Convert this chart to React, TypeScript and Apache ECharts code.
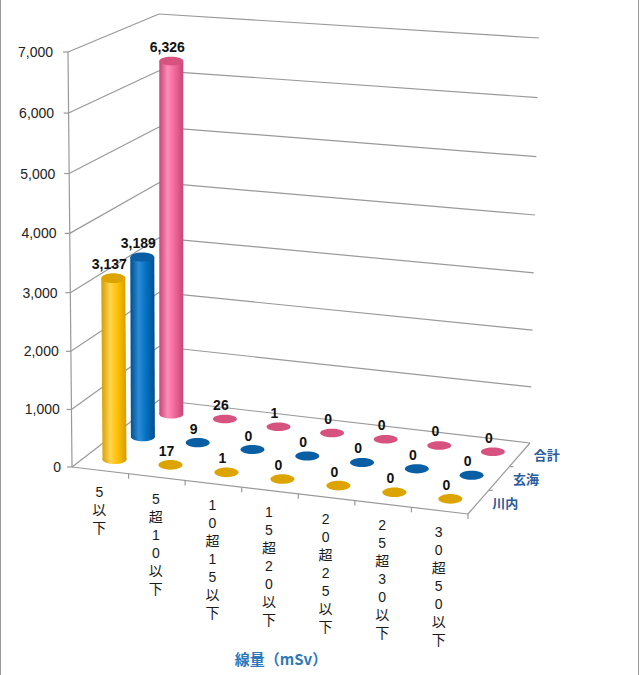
import React, { useEffect, useRef } from "react";
import * as echarts from "echarts";

// ---- data ----
const categories = ["5以下", "5超10以下", "10超15以下", "15超20以下", "20超25以下", "25超30以下", "30超50以下"];
const seriesNames = ["川内", "玄海", "合計"];
const sendai = [3137, 17, 1, 0, 0, 0, 0];
const genkai = [3189, 9, 0, 0, 0, 0, 0];
const total = [6326, 26, 1, 0, 0, 0, 0];
const yTicks = [0, 1000, 2000, 3000, 4000, 5000, 6000, 7000];
const axisTitle = "線量（mSv）";

// ---- projection of the 3D box (screen corners of the plot cube) ----
const CORNERS: Record<string, number[]> = {
  b00: [72, 467],
  b10: [468, 514],
  b01: [159, 400],
  b11: [530, 443],
  t00: [68, 52],
  t10: [473, 79],
  t01: [159, 14],
  t11: [539, 38],
};
const PERSP = -0.034;
function mix(a: number[], b: number[], s: number) {
  return [a[0] + (b[0] - a[0]) * s, a[1] + (b[1] - a[1]) * s];
}
function P(u: number, w: number, t: number) {
  const f = ((1 + PERSP) * t) / (1 + PERSP * t);
  const c = CORNERS;
  const b = mix(mix(c.b00, c.b10, u), mix(c.b01, c.b11, u), w);
  const h = mix(mix(c.t00, c.t10, u), mix(c.t01, c.t11, u), w);
  return mix(b, h, f);
}
const fmt = (v: number) => Number(v).toLocaleString("en-US");
const LATIN = "'Liberation Sans', Arial, 'Noto Sans CJK JP', sans-serif";
const CJK = "'Liberation Sans', 'Noto Sans CJK JP', sans-serif";
const GRID = "#999999";

const palettes = [
  { main: "#FFC000", light: "#FFD44F", dark: "#D49C00", cap: "#DDA400" },
  { main: "#0070C0", light: "#2B8CD8", dark: "#004E8A", cap: "#0A5EA4" },
  { main: "#F2669A", light: "#FF8CB8", dark: "#C64676", cap: "#D6527F" },
];

function bodyGrad(p: any) {
  return new echarts.graphic.LinearGradient(0, 0, 1, 0, [
    { offset: 0, color: p.dark },
    { offset: 0.35, color: p.light },
    { offset: 0.65, color: p.main },
    { offset: 1, color: p.dark },
  ]);
}

function makeBar(values: number[], sIdx: number, z: number) {
  const w = (sIdx + 0.5) / seriesNames.length;
  const pal = palettes[sIdx];
  return {
    type: "custom",
    name: seriesNames[sIdx],
    z,
    clip: false,
    coordinateSystem: "cartesian2d",
    data: values.map((v, i) => [i, v]),
    renderItem: (params: any, api: any) => {
      const cs = params.coordSys;
      const k = api.value(0);
      const v = api.value(1);
      const p0 = api.coord([k, 0]);
      const p1 = api.coord([k, v]);
      const u = (p0[0] - cs.x) / cs.width;
      const t = (p0[1] - p1[1]) / cs.height;
      const base = P(u, w, 0);
      const top = P(u, w, t);
      const rx = 12;
      const ry = 5 - 0.9 * w;
      const children: any[] = [];
      if (base[1] - top[1] > 1.5) {
        children.push({
          type: "ellipse",
          shape: { cx: base[0], cy: base[1], rx, ry },
          style: { fill: bodyGrad(pal) },
        });
        children.push({
          type: "polygon",
          shape: {
            points: [
              [base[0] - rx, base[1]],
              [base[0] + rx, base[1]],
              [top[0] + rx, top[1]],
              [top[0] - rx, top[1]],
            ],
          },
          style: { fill: bodyGrad(pal) },
        });
      }
      children.push({
        type: "ellipse",
        shape: { cx: top[0], cy: top[1], rx, ry },
        style: { fill: pal.cap },
      });
      children.push({
        type: "text",
        x: top[0] - 4,
        y: top[1] - 14,
        z2: 10,
        style: {
          text: fmt(v),
          fill: "#111",
          font: `bold 14px ${LATIN}`,
          align: "center",
          verticalAlign: "middle",
        },
      });
      return { type: "group", children };
    },
  };
}

const frameSeries = {
  type: "custom",
  z: 1,
  silent: true,
  clip: false,
  coordinateSystem: "cartesian2d",
  data: [[0, 0]],
  renderItem: (params: any, api: any) => {
    const cs = params.coordSys;
    const y0 = api.coord([0, 0])[1];
    const children: any[] = [];
    const L = (a: number[], b: number[], c = GRID) => ({
      type: "line",
      shape: { x1: a[0], y1: a[1], x2: b[0], y2: b[1] },
      style: { stroke: c, lineWidth: 1.2 },
    });
    yTicks.forEach((v) => {
      const t = (y0 - api.coord([0, v])[1]) / cs.height;
      children.push(L(P(0, 0, t), P(0, 1, t)));
      children.push(L(P(0, 1, t), P(1, 1, t)));
      const e = P(0, 0, t);
      children.push(L([e[0] - 5, e[1]], e));
      children.push({
        type: "text",
        x: e[0] - (11 + 4 * t),
        y: e[1],
        style: {
          text: fmt(v),
          fill: "#222",
          font: `14px ${LATIN}`,
          align: "right",
          verticalAlign: "middle",
        },
      });
    });
    children.push(L(P(0, 0, 0), P(0, 0, 1)));
    children.push(L(P(0, 0, 0), P(1, 0, 0)));
    children.push(L(P(1, 0, 0), P(1, 1, 0)));
    const band = cs.width / categories.length;
    categories.forEach((c, i) => {
      const cx = api.coord([i, 0])[0];
      const uc = (cx - cs.x) / cs.width;
      const ub = (cx - cs.x + band / 2) / cs.width;
      const b = P(ub, 0, 0);
      children.push(L(b, [b[0], b[1] + 5]));
      const e = P(uc, 0, 0);
      children.push({
        type: "text",
        x: e[0] - 1,
        y: e[1] + 12.5,
        style: {
          text: c.split("").join("\n"),
          fill: "#1a1a1a",
          font: `14px ${CJK}`,
          lineHeight: 18,
          align: "center",
          verticalAlign: "top",
        },
      });
    });
    seriesNames.forEach((n, s) => {
      if (s > 0) {
        const e = P(1, s / seriesNames.length, 0);
        children.push(L(e, [e[0] + 4, e[1]]));
      }
      const m = P(1, (s + 0.5) / seriesNames.length, 0);
      children.push({
        type: "text",
        x: m[0] + 14,
        y: m[1],
        style: {
          text: n,
          fill: "#2B5C9C",
          font: `bold 13px 'Noto Sans CJK JP', sans-serif`,
          align: "left",
          verticalAlign: "middle",
        },
      });
    });
    children.push({
      type: "text",
      x: 281,
      y: 658,
      style: {
        text: axisTitle,
        fill: "#2E78BA",
        font: `bold 15px 'Noto Sans CJK JP', sans-serif`,
        align: "center",
        verticalAlign: "middle",
      },
    });
    return { type: "group", children };
  },
};

export default function App() {
  const ref = useRef<HTMLDivElement>(null);
  useEffect(() => {
    if (!ref.current) return;
    const chart = echarts.init(ref.current, undefined, { renderer: "svg" });
    chart.setOption({
      animation: false,
      backgroundColor: "#ffffff",
      grid: { left: 68, top: 52, width: 400, height: 415 },
      xAxis: { type: "category", data: categories, show: false },
      yAxis: { type: "value", min: 0, max: 7000, interval: 1000, show: false },
      graphic: [
        { type: "line", shape: { x1: 0.5, y1: 0, x2: 0.5, y2: 675 }, style: { stroke: "#9a9a9a", lineWidth: 1 } },
        { type: "line", shape: { x1: 638.5, y1: 0, x2: 638.5, y2: 675 }, style: { stroke: "#9a9a9a", lineWidth: 1 } },
      ],
      series: [frameSeries, makeBar(total, 2, 2), makeBar(genkai, 1, 3), makeBar(sendai, 0, 4)],
    });
    return () => chart.dispose();
  }, []);
  return (
    <div
      ref={ref}
      style={{ position: "absolute", left: 0, top: 0, width: 640, height: 675, background: "#fff" }}
    />
  );
}
